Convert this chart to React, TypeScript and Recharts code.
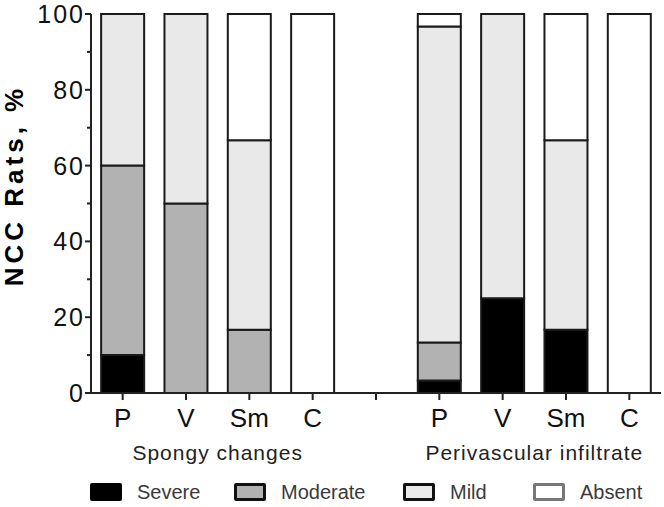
import React from 'react'
import { BarChart, Bar, XAxis, YAxis, Legend } from 'recharts'

// categories along the x axis (the empty one is the gap between the two groups)
const categories = ['P', 'V', 'Sm', 'C', '', 'P', 'V', 'Sm', 'C']
const severe = [10, 0, 0, 0, 0, 3.3, 25, 16.7, 0]
const moderate = [50, 50, 16.7, 0, 0, 10, 0, 0, 0]
const mild = [40, 50, 50, 0, 0, 83.4, 75, 50, 0]
const absent = [0, 0, 33.3, 100, 0, 3.3, 0, 33.3, 100]

const yTicks = [0, 10, 20, 30, 40, 50, 60, 70, 80, 90, 100]
const groupNames = ['Spongy changes', 'Perivascular infiltrate']
// first and last category index of each group
const groupSpans = [[0, 3], [5, 8]]

const series = [
  { key: 'Severe', values: severe, fill: '#000000', swatchStroke: '#000000' },
  { key: 'Moderate', values: moderate, fill: '#b2b2b2', swatchStroke: '#111111' },
  { key: 'Mild', values: mild, fill: '#e9e9e9', swatchStroke: '#111111' },
  { key: 'Absent', values: absent, fill: '#ffffff', swatchStroke: '#777777' },
]

const data = categories.map((name, i) => {
  const row: Record<string, any> = { name }
  series.forEach(s => { row[s.key] = s.values[i] })
  return row
})

const font = '"Liberation Sans", Arial, Helvetica, sans-serif'

const YTick = (props: any) => {
  const { x, y, payload } = props
  const major = payload.value % 20 === 0
  return (
    <g>
      <line x1={x - (major ? 6 : 4)} x2={x} y1={y} y2={y} stroke="#222" strokeWidth={2} />
      {major && (
        <text x={x - 6} y={y} textAnchor="end" dominantBaseline="central"
          fontFamily={font} fontSize={25} letterSpacing={2} fill="#111">
          {payload.value}
        </text>
      )}
    </g>
  )
}

const GroupTick = (props: any) => {
  const { x, y, payload, index } = props
  const g = groupSpans.findIndex(sp => sp[0] === index)
  if (g < 0) return <g />
  const half = payload.offset || 570 / 9 / 2
  const [a, b] = groupSpans[g]
  return (
    <text x={x + (b - a) * half} y={y + 22} textAnchor="middle" fontFamily={font}
      fontSize={21} letterSpacing={1} fill="#222">
      {groupNames[g]}
    </text>
  )
}

const YLabel = (props: any) => {
  const { viewBox } = props
  const cx = 14
  const cy = viewBox.y + viewBox.height / 2 - 18
  return (
    <text x={cx} y={cy} transform={`rotate(-90, ${cx}, ${cy})`} textAnchor="middle"
      dominantBaseline="central" fontFamily={font} fontWeight="bold" fontSize={26}
      letterSpacing={4} fill="#000">
      NCC Rats, %
    </text>
  )
}

const itemWidths = [144, 169, 130, 110]

const LegendContent = () => (
  <div style={{ height: 34, display: 'flex', alignItems: 'center', paddingLeft: 90, paddingTop: 4, boxSizing: 'border-box', fontFamily: font }}>
    {series.map((s, i) => (
      <div key={s.key} style={{ width: itemWidths[i], display: 'flex', alignItems: 'center' }}>
        <div style={{ width: 32, height: 18, boxSizing: 'border-box', background: s.fill, border: `3px solid ${s.swatchStroke}`, borderRadius: 2 }} />
        <span style={{ marginLeft: 15, fontSize: 20, color: '#3a3a3a' }}>{s.key}</span>
      </div>
    ))}
  </div>
)

export default function App() {
  return (
    <div style={{ position: 'absolute', left: 0, top: 0, background: '#fff' }}>
      <BarChart width={664} height={507} data={data} barCategoryGap="16%"
        margin={{ top: 14, right: 3, left: 0, bottom: 0 }}>
        <XAxis dataKey="name" height={45} tickSize={7} tickMargin={9}
          axisLine={{ stroke: '#222', strokeWidth: 2 }}
          tickLine={{ stroke: '#222', strokeWidth: 2 }}
          tick={{ fontSize: 26, fill: '#111', fontFamily: font }}
          interval={0} />
        <XAxis xAxisId="grp" dataKey="name" height={35} axisLine={false} tickLine={false}
          tickSize={0} tickMargin={0} interval={0} tick={<GroupTick />} />
        <YAxis width={91} domain={[0, 100]} ticks={yTicks} interval={0}
          tickSize={0} tickMargin={0} tick={<YTick />} tickLine={false}
          axisLine={{ stroke: '#222', strokeWidth: 2 }}
          label={<YLabel />} />
        <Legend verticalAlign="bottom" content={<LegendContent />}
          wrapperStyle={{ left: 0, width: 664 }} />
        {series.map(s => (
          <Bar key={s.key} dataKey={s.key} stackId="a" fill={s.fill}
            stroke="#1a1a1a" strokeWidth={2} isAnimationActive={false} />
        ))}
      </BarChart>
    </div>
  )
}
